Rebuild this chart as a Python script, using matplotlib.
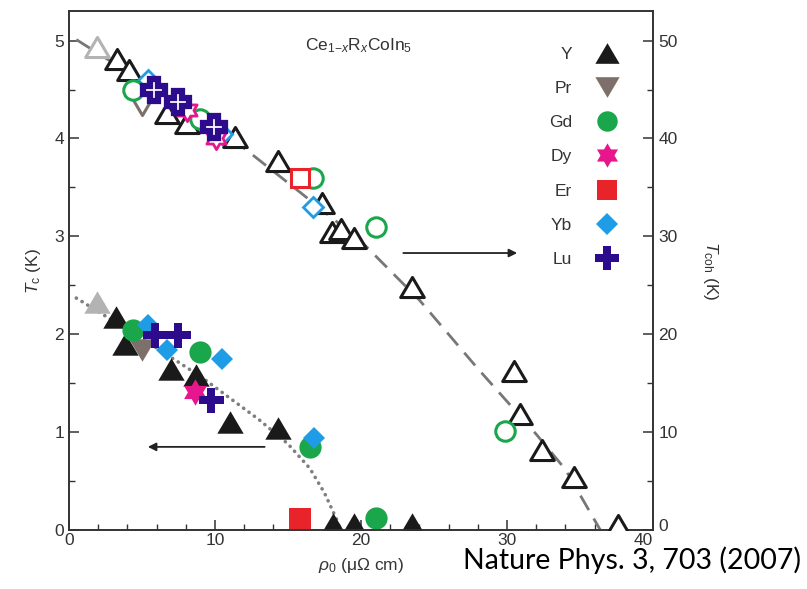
import matplotlib
matplotlib.use("Agg")
import matplotlib.pyplot as plt
from matplotlib.lines import Line2D
from matplotlib.path import Path
from matplotlib.transforms import ScaledTranslation
import numpy as np

plt.rcParams["font.family"] = ["Liberation Sans", "DejaVu Sans"]
plt.rcParams["mathtext.fontset"] = "custom"
plt.rcParams["mathtext.rm"] = "Liberation Sans"
plt.rcParams["mathtext.it"] = "Liberation Sans:italic"

# residual resistivity rho_0 (uOhm cm); Tc in K (filled, left axis); Tcoh in K (open, right axis)
host_rho_tc, host_tc = [1.9], [2.33]
host_rho_coh, host_coh = [1.9], [49.3]

y_rho_tc = [3.2, 3.84, 7.0, 8.7, 11.0, 14.3, 18.1, 19.5, 23.5]
y_tc = [2.18, 1.90, 1.65, 1.58, 1.10, 1.04, 0.06, 0.06, 0.06]
y_rho_coh = [3.3, 4.1, 6.7, 8.1, 11.4, 14.3, 17.3, 18.0, 18.6, 19.5, 23.5, 30.5, 30.9, 32.4, 34.6, 37.6]
y_coh = [48.1, 47.0, 42.6, 41.6, 40.1, 37.7, 33.4, 30.4, 30.8, 29.8, 24.8, 16.3, 11.9, 8.2, 5.4, 0.5]

pr_rho_tc, pr_tc = [5.0], [1.84]
pr_rho_coh, pr_coh = [5.0], [43.4]

gd_rho_tc = [4.4, 9.0, 16.5, 21.0]
gd_tc = [2.04, 1.82, 0.85, 0.12]
gd_rho_coh = [4.4, 9.0, 16.7, 21.0, 29.9]
gd_coh = [45.0, 42.0, 36.0, 31.0, 10.1]

dy_rho_tc, dy_tc = [8.6], [1.41]
dy_rho_coh, dy_coh = [8.1, 10.1], [42.9, 40.0]

er_rho_tc, er_tc = [15.8], [0.11]
er_rho_coh, er_coh = [15.8], [36.0]

yb_rho_tc = [5.4, 6.7, 10.45, 16.8]
yb_tc = [2.09, 1.84, 1.75, 0.94]
yb_rho_coh = [5.4, 10.5, 16.7]
yb_coh = [46.0, 40.5, 33.0]

lu_rho_tc = [5.9, 7.5, 9.7]
lu_tc = [1.99, 1.99, 1.33]
lu_rho_coh = [5.8, 7.5, 9.9]
lu_coh = [44.9, 43.7, 41.2]

# guide curves traced through the data
tc_guide_rho = [0.5, 3, 6, 9, 11, 13, 15, 16.5, 17.5, 18.3, 18.6]
tc_guide = [2.37, 2.14, 1.86, 1.57, 1.35, 1.13, 0.88, 0.63, 0.38, 0.12, 0.0]
coh_guide_rho = [0.5, 4, 8, 12, 16, 20, 24, 28, 32, 34, 36.4]
coh_guide = [50.1, 46.8, 42.8, 39.0, 34.3, 29.5, 23.5, 16.5, 9.8, 6.2, 0.0]

C_HOST, C_Y, C_PR = "#b3b3b3", "#1a1a1a", "#7d706b"
C_GD, C_DY, C_ER = "#1aa64b", "#e6168c", "#e8242a"
C_YB, C_LU = "#1e9ce6", "#2c0c8c"
INK = "#333333"


def closed(verts):
    return Path(list(verts) + [verts[0]], closed=True)


TRI_UP = closed([(0, 0.85), (-1, -0.85), (1, -0.85)])
TRI_DN = closed([(0, -0.85), (-1, 0.85), (1, 0.85)])
ang = np.deg2rad(90 + 30 * np.arange(12))
rad = np.where(np.arange(12) % 2 == 0, 1.0, 1 / np.sqrt(3))
HEXA = closed(list(zip(rad * np.cos(ang), rad * np.sin(ang))))

fig = plt.figure(figsize=(8.07, 5.89), dpi=100)
ax = fig.add_axes([0.0855, 0.100, 0.7236, 0.881])
ax2 = ax.twinx()

ax.set_xlim(0, 40)
ax.set_ylim(0, 5.3)
ax2.set_ylim(0, 53)

ax.plot(tc_guide_rho, tc_guide, color="#7f7f7f", lw=2.6,
        linestyle=(0, (0.05, 1.8)), dash_capstyle="round", zorder=1)
ax2.plot(coh_guide_rho, coh_guide, color="#777777", lw=2.0,
         linestyle=(0, (6, 3.5)), zorder=1)

filled = [
    (host_rho_tc, host_tc, TRI_UP, 19, C_HOST, None),
    (y_rho_tc, y_tc, TRI_UP, 19, C_Y, "Y"),
    (pr_rho_tc, pr_tc, TRI_DN, 19, C_PR, "Pr"),
    (gd_rho_tc, gd_tc, "o", 16, C_GD, "Gd"),
    (yb_rho_tc, yb_tc, "D", 11.7, C_YB, "Yb"),
    (dy_rho_tc, dy_tc, HEXA, 19, C_DY, "Dy"),
    (er_rho_tc, er_tc, "s", 15.5, C_ER, "Er"),
    (lu_rho_tc, lu_tc, "P", 18, C_LU, "Lu"),
]
handles = {}
for xs, ys, m, ms, c, lab in filled:
    ax.plot(xs, ys, ls="none", marker=m, ms=ms, mfc=c, mec=c, mew=0, zorder=3)
    if lab:
        handles[lab] = Line2D([], [], ls="none", marker=m, ms=ms, mfc=c, mec=c, mew=0)

opened = [
    (host_rho_coh, host_coh, TRI_UP, 17, C_HOST, 2.2),
    (y_rho_coh, y_coh, TRI_UP, 17, C_Y, 2.2),
    (pr_rho_coh, pr_coh, TRI_DN, 17, C_PR, 2.2),
    (yb_rho_coh, yb_coh, "D", 10.5, C_YB, 2.0),
    (gd_rho_coh, gd_coh, "o", 14, C_GD, 2.2),
    (dy_rho_coh, dy_coh, HEXA, 16, C_DY, 2.0),
    (er_rho_coh, er_coh, "s", 13, C_ER, 2.2),
    (lu_rho_coh, lu_coh, "P", 16.5, C_LU, 4.5),
]
for xs, ys, m, ms, c, mew in opened:
    ax2.plot(xs, ys, ls="none", marker=m, ms=ms, mfc="white", mec=c, mew=mew, zorder=3)

# arrows pointing each branch to its own axis
ax.annotate("", xy=(5.4, 0.85), xytext=(13.4, 0.85),
            arrowprops=dict(arrowstyle="-|>", color="#222222", lw=1.3,
                            mutation_scale=12, shrinkA=0, shrinkB=0))
ax2.annotate("", xy=(30.7, 28.3), xytext=(22.9, 28.3),
             arrowprops=dict(arrowstyle="-|>", color="#222222", lw=1.3,
                             mutation_scale=12, shrinkA=0, shrinkB=0))

ax2.text(0.404, 0.934, r"Ce$_{1\mathrm{-}x}$R$_{x}$CoIn$_5$", transform=ax.transAxes,
         fontsize=12.5, color=INK, ha="left", va="center")

order = ["Y", "Pr", "Gd", "Dy", "Er", "Yb", "Lu"]
leg = ax2.legend([handles[k] for k in order], order, loc="upper left",
                 bbox_to_anchor=(0.822, 0.932), frameon=False, markerfirst=False,
                 fontsize=12.5, labelspacing=1.1, handlelength=1.6,
                 handletextpad=1.2, borderpad=0, borderaxespad=0, markerscale=0.92)
for t in leg.get_texts():
    t.set_color(INK)

for a in (ax, ax2):
    for s in a.spines.values():
        s.set_color(INK)
        s.set_linewidth(1.2)

ax.set_xticks([0, 10, 20, 30, 40])
ax.set_xticks(np.arange(0, 41, 2), minor=True)
ax.set_yticks([0, 1, 2, 3, 4, 5])
ax.set_yticks(np.arange(0, 5.3, 0.5), minor=True)
ax2.set_yticks([0, 10, 20, 30, 40, 50])
ax2.set_yticks(np.arange(0, 53, 5), minor=True)
ax.tick_params(axis="both", which="major", direction="in", length=7, width=1.1,
               colors=INK, labelsize=12.5)
ax.tick_params(axis="both", which="minor", direction="in", length=4, width=1.0, colors=INK)
ax.tick_params(axis="y", right=False, which="both")
ax.tick_params(axis="x", pad=2)
ax2.tick_params(axis="y", which="major", direction="in", length=7, width=1.1,
                colors=INK, labelsize=12.5, pad=4)
ax2.tick_params(axis="y", which="minor", direction="in", length=4, width=1.0, colors=INK)

# keep the corner labels "40" and right-hand "0" apart
ax.xaxis.get_major_ticks()[-1].label1.set_horizontalalignment("right")
zero_r = ax2.yaxis.get_major_ticks()[0].label2
zero_r.set_transform(zero_r.get_transform() + ScaledTranslation(0, 4 / 72, fig.dpi_scale_trans))

ax.set_xlabel(r"$\rho_0$ (μΩ cm)", fontsize=12.5, color=INK, labelpad=6)
ax.set_ylabel(r"$T_\mathrm{c}$ (K)", fontsize=12.5, color=INK, labelpad=8)
ax2.set_ylabel(r"$T_\mathrm{coh}$ (K)", fontsize=12.5, color=INK, rotation=270, labelpad=30)

fig.text(0.574, 0.034, "Nature Phys. 3, 703 (2007)", fontsize=20.5,
         family=["Lato", "DejaVu Sans"], color="black", ha="left", va="baseline")

fig.savefig("out.png", dpi=100)
